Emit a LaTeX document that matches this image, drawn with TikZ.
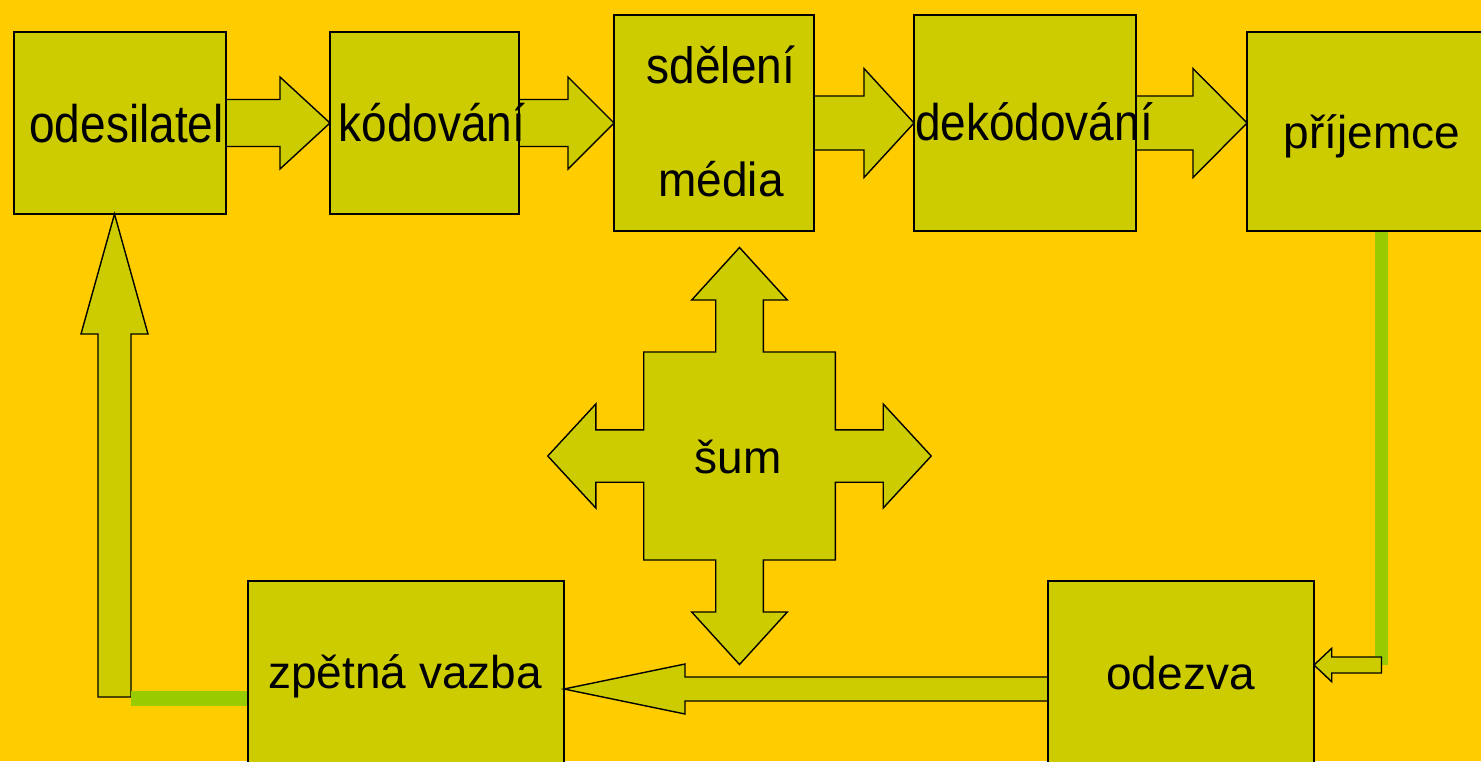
\documentclass[tikz,border=0pt]{standalone}
\usepackage{fontspec}
\setmainfont{Liberation Sans}
\usetikzlibrary{calc}
\definecolor{bg}{HTML}{FFCC00}
\definecolor{boxfill}{HTML}{CCCC00}
\definecolor{lime}{HTML}{99CC00}
% horizontal block arrow: base, tip, half shaft, half head, head length
\newcommand\hblockarrow[5]{%
  \draw[blk] let \p1=(#1), \p2=(#2), \n1={sign(\x2-\x1)} in
    (\x1,\y1+#3pt) -- (\x2-\n1*#5pt,\y1+#3pt) -- (\x2-\n1*#5pt,\y1+#4pt) -- (\x2,\y1)
    -- (\x2-\n1*#5pt,\y1-#4pt) -- (\x2-\n1*#5pt,\y1-#3pt) -- (\x1,\y1-#3pt) -- cycle;}
\newcommand\tall[2][1.13]{\scalebox{1}[#1]{#2}}
\begin{document}
\begin{tikzpicture}[x=1pt,y=-1pt,
  blk/.style={draw=black,fill=boxfill,line width=1.4pt,line join=miter},
  boxnode/.style={blk,rectangle,inner sep=0pt,outer sep=0pt,anchor=north west},
  lbl/.style={anchor=base,inner sep=0pt,font=\fontsize{46}{55}\selectfont},
  feed/.style={draw=lime,line width=14pt}]
\clip (0,0) rectangle (1481,761);
\fill[bg] (0,0) rectangle (1481,761);

% boxes
\node[boxnode,minimum width=212,minimum height=182] (odes) at (14,32) {};
\node[boxnode,minimum width=189,minimum height=182] (kod)  at (330,32) {};
\node[boxnode,minimum width=200,minimum height=216] (sdel) at (614,15) {};
\node[boxnode,minimum width=222,minimum height=216] (dek)  at (914,15) {};
\node[boxnode,minimum width=260,minimum height=199] (prij) at (1247,32) {};
\node[boxnode,minimum width=316,minimum height=200] (zpet) at (248,581) {};
\node[boxnode,minimum width=266,minimum height=200] (odez) at (1048,581) {};

% top block arrows
\coordinate (t1) at (kod.west |- odes.east);
\coordinate (t2) at (sdel.west |- kod.east);
\coordinate (t3) at (dek.west |- sdel.east);
\coordinate (t4) at (prij.west |- dek.east);
\hblockarrow{odes.east}{t1}{23.5}{46}{50}
\hblockarrow{kod.east}{t2}{23.5}{46}{46}
\hblockarrow{sdel.east}{t3}{27}{54.5}{50}
\hblockarrow{dek.east}{t4}{27}{54.5}{54}

% bottom arrow odezva -> zpetna vazba
\coordinate (b0) at ($(odez.west)+(0,8)$);
\coordinate (b1) at (zpet.east |- b0);
\hblockarrow{b0}{b1}{12}{25}{121}

% green line prijemce -> small arrow -> odezva
\coordinate (gtop) at ($(prij.south west)+(134.5,0)$);
\coordinate (gbot) at (1381.5,665);
\draw[feed,line width=12.5pt] (gtop) -- (gbot);
\coordinate (g2) at (odez.east |- gbot);
\hblockarrow{gbot}{g2}{8}{16.7}{17.7}

% feedback: zpetna vazba -> green line -> up arrow -> odesilatel
\coordinate (fb) at (114.5,697);
\coordinate (fbtip) at ($(odes.south)+(-5.5,0)$);
\draw[blk] let \p1=(fb), \p2=(fbtip) in
  (\x1-16.5pt,\y1) -- (\x1-16.5pt,\y2-120pt) -- (\x1-33.5pt,\y2-120pt) -- (\x2,\y2)
  -- (\x1+33.5pt,\y2-120pt) -- (\x1+16.5pt,\y2-120pt) -- (\x1+16.5pt,\y1) -- cycle;
\coordinate (fbr) at (131,698);
\draw[feed,line width=15pt] (zpet.west |- fbr) -- (fbr);

% redraw box outlines on top of arrow bases
\foreach \b in {odes,kod,sdel,dek,prij,zpet,odez}{
  \draw[line width=1.4pt] (\b.north west) rectangle (\b.south east);}

% noise quad arrow
\begin{scope}[shift={(739.5,456)}]
\draw[blk] (0,-208.5) -- (47.8,-156) -- (23.8,-156) -- (23.8,-104) -- (95.8,-104)
  -- (95.8,-26.2) -- (143.7,-26.2) -- (143.7,-52) -- (191.7,0) -- (143.7,52)
  -- (143.7,26.2) -- (95.8,26.2) -- (95.8,104) -- (23.8,104) -- (23.8,156)
  -- (47.8,156) -- (0,208.5) -- (-47.8,156) -- (-23.8,156) -- (-23.8,104)
  -- (-95.8,104) -- (-95.8,26.2) -- (-143.7,26.2) -- (-143.7,52) -- (-191.7,0)
  -- (-143.7,-52) -- (-143.7,-26.2) -- (-95.8,-26.2) -- (-95.8,-104)
  -- (-23.8,-104) -- (-23.8,-156) -- (-47.8,-156) -- cycle;
\end{scope}

% labels
\node[lbl] (lodes) at (126.5,142) {\tall[1.15]{odesilatel}};
\node[lbl] (lkod)  at (432,141.5) {\tall{kódování}};
\node[lbl] (lsdel) at (721,83) {\tall[1.11]{sdělení}};
\node[lbl] (lmed)  at (721,196) {\tall[1.04]{média}};
\node[lbl] (ldek)  at (1034,140) {\tall[1.12]{dekódování}};
\node[lbl] (lprij) at (1372,148) {příjemce};
\node[lbl] (lsum)  at (738,473) {šum};
\node[lbl] (lzpet) at (405,688) {zpětná vazba};
\node[lbl] (lodez) at (1180.5,689) {odezva};
\end{tikzpicture}
\end{document}
